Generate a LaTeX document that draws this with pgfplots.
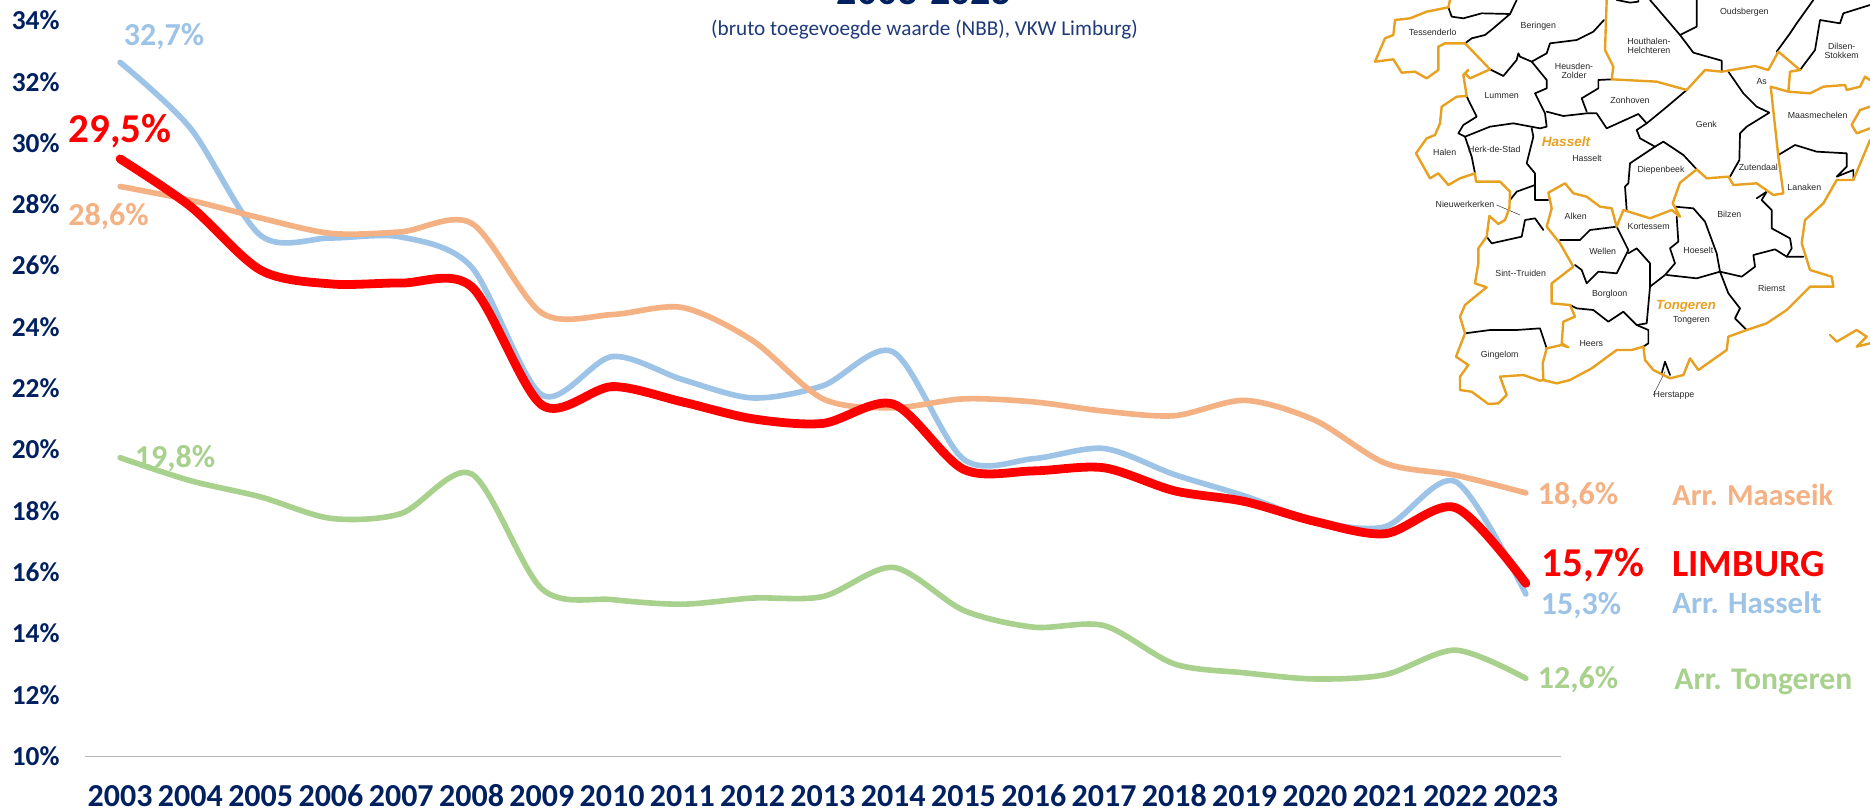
\documentclass[border=0pt]{standalone}
\usepackage{pgfplots}
\pgfplotsset{compat=1.18}
\usepackage{fontspec}
\setmainfont{Carlito}
\newfontfamily\mapfont{Liberation Sans}
\definecolor{navy}{HTML}{002060}
\definecolor{subt}{HTML}{1F3A78}
\definecolor{cred}{HTML}{FF0000}
\definecolor{cblue}{HTML}{9DC3E6}
\definecolor{corange}{HTML}{F4B183}
\definecolor{cgreen}{HTML}{A9D18E}
\definecolor{mapor}{HTML}{E8A020}
\newcommand\fs[1]{\fontsize{#1}{#1}\selectfont}
\newcommand\fsb{\fontsize{4.4}{4.7}\selectfont}
\begin{document}
\begin{tikzpicture}[x=0.5pt,y=-0.5pt]
\useasboundingbox (0,0) rectangle (1870,812);
\begin{axis}[
  at={(42.5pt,-378.25pt)}, anchor=south west,
  scale only axis, width=738pt, height=367.75pt,
  xmin=2002.5, xmax=2023.5, ymin=10, ymax=34,
  clip=false,
  axis x line=bottom, axis y line=left,
  axis line style={-},
  x axis line style={draw=black!28,line width=0.6pt},
  y axis line style={draw=none},
  major tick length=0pt,
  xtick={2003,...,2023},
  xticklabels={2003,2004,2005,2006,2007,2008,2009,2010,2011,2012,2013,2014,2015,2016,2017,2018,2019,2020,2021,2022,2023},
  ytick={10,12,...,34},
  yticklabels={10\%,12\%,14\%,16\%,18\%,20\%,22\%,24\%,26\%,28\%,30\%,32\%,34\%},
  xticklabel style={font=\bfseries\fs{16}, text=navy, anchor=base, yshift=-25pt, inner sep=0pt},
  yticklabel style={font=\bfseries\fs{13.7}, text=navy, anchor=base east, xshift=-12.5pt, yshift=-4.4pt, inner sep=0pt},
  every axis plot/.append style={smooth, tension=0.5, no markers, line cap=round, line join=round},
]
\addplot[cblue, line width=2.8pt] coordinates {(2003,32.65)(2004,30.5)(2005,27.0)(2006,26.92)(2007,26.95)(2008,25.97)(2009,21.8)(2010,23.05)(2011,22.3)(2012,21.7)(2013,22.1)(2014,23.2)(2015,19.7)(2016,19.72)(2017,20.05)(2018,19.2)(2019,18.5)(2020,17.7)(2021,17.5)(2022,18.97)(2023,15.3)};
\addplot[cgreen, line width=2.8pt] coordinates {(2003,19.75)(2004,19.0)(2005,18.47)(2006,17.77)(2007,17.93)(2008,19.22)(2009,15.47)(2010,15.12)(2011,14.97)(2012,15.17)(2013,15.22)(2014,16.17)(2015,14.77)(2016,14.22)(2017,14.27)(2018,13.02)(2019,12.73)(2020,12.53)(2021,12.67)(2022,13.47)(2023,12.55)};
\addplot[corange, line width=2.8pt] coordinates {(2003,28.6)(2004,28.15)(2005,27.57)(2006,27.07)(2007,27.12)(2008,27.4)(2009,24.47)(2010,24.42)(2011,24.65)(2012,23.57)(2013,21.67)(2014,21.38)(2015,21.67)(2016,21.57)(2017,21.27)(2018,21.12)(2019,21.62)(2020,20.97)(2021,19.57)(2022,19.18)(2023,18.6)};
\addplot[cred, line width=4.4pt] coordinates {(2003,29.5)(2004,27.95)(2005,25.87)(2006,25.42)(2007,25.45)(2008,25.33)(2009,21.47)(2010,22.07)(2011,21.57)(2012,21.02)(2013,20.87)(2014,21.5)(2015,19.37)(2016,19.32)(2017,19.42)(2018,18.67)(2019,18.32)(2020,17.67)(2021,17.27)(2022,18.12)(2023,15.65)};
\end{axis}
% title and subtitle
\node[anchor=base, text=navy, font=\bfseries\fs{20}, inner sep=0pt] at (924,5) {2003-2023};
\node[text=subt, font=\fs{10.6}, inner sep=0pt] at (924.5,30) {(bruto toegevoegde waarde (NBB), VKW Limburg)};
% value labels
\begin{scope}[every node/.style={inner sep=0pt, font=\bfseries\fs{16}}]
\node[text=cblue] at (164,37) {32,7\%};
\node[text=cred, font=\bfseries\fs{20.5}] at (120,131) {29,5\%};
\node[text=corange] at (108.5,217) {28,6\%};
\node[text=cgreen] at (175,459) {19,8\%};
\node[text=corange] at (1578,496) {18,6\%};
\node[text=cred, font=\bfseries\fs{20.5}] at (1593,565) {15,7\%};
\node[text=cblue] at (1581,606) {15,3\%};
\node[text=cgreen] at (1578,680) {12,6\%};
\node[text=corange, anchor=west, font=\bfseries\fs{15.2}] at (1672,495) {Arr. Maaseik};
\node[text=cred, anchor=west, font=\bfseries\fs{19.2}] at (1672,564) {LIMBURG};
\node[text=cblue, anchor=west, font=\bfseries\fs{15.5}] at (1672,603) {Arr. Hasselt};
\node[text=cgreen, anchor=west, font=\bfseries\fs{15.8}] at (1674,682) {Arr. Tongeren};
\end{scope}
% map inset
\begin{scope}[shift={(1350,0)}, x=0.166667pt, y=-0.166667pt, line join=round, line cap=round]
\begin{scope}[black, line width=0.85pt]
\draw (295,22)--(305,50)--(340,55)--(395,40)--(480,42)--(500,0);
\draw (480,42)--(430,85)--(405,105)--(365,115)--(345,130);
\draw (420,208)--(460,228)--(500,180)--(505,160)--(510,170)--(545,185)--(590,160)--(600,130)--(680,120)--(730,95)--(762,60);
\draw (545,185)--(590,240)--(590,265)--(555,280)--(585,340)--(590,380)--(570,385)--(490,370)--(420,380)--(345,410)--(325,400)--(340,375)--(380,350)--(355,300)--(350,288);
\draw (590,335)--(640,348)--(710,340)--(740,340)--(770,385)--(865,342)--(890,370)--(860,390)--(870,415)--(915,440);
\draw (695,295)--(745,265)--(745,240)--(785,238);
\draw (695,295)--(710,335);
\draw (1010,270)--(945,325)--(890,370);
\draw (915,440)--(840,490)--(835,550)--(825,560)--(830,630);
\draw (915,440)--(940,425)--(1000,465)--(1040,508);
\draw (345,410)--(365,470)--(375,520);
\draw (545,385)--(550,410)--(530,490)--(555,520)--(555,600)--(595,600);
\draw (555,555)--(500,575)--(480,600);
\draw (410,710)--(425,730)--(515,710)--(525,660)--(555,655)--(580,690);
\draw (630,720)--(690,720)--(720,690)--(800,680)--(835,750)--(800,820)--(745,815)--(710,850)--(695,810)--(675,795);
\draw (835,760)--(860,745)--(900,790)--(900,860)--(945,825)--(975,790)--(960,745)--(985,725)--(980,650);
\draw (950,825)--(1040,835)--(1110,815)--(1175,830)--(1215,800)--(1210,765)--(1275,748)--(1310,770)--(1360,770);
\draw (975,620)--(1030,625)--(1065,665)--(1100,760)--(1110,815)--(1135,880)--(1170,925)--(1155,955)--(1190,990);
\draw (1220,595)--(1250,575)--(1235,600)--(1265,630)--(1265,685)--(1320,715)--(1325,745)--(1310,770);
\draw (900,860)--(890,970)--(860,975)--(820,935)--(775,965)--(730,930)--(680,925)--(660,915);
\draw (860,975)--(895,990)--(895,1030)--(880,1040);
\draw (345,1000)--(420,990)--(500,990)--(570,985)--(590,1045);
\draw (935,1120)--(945,1085)--(960,1125);
\draw (1135,215)--(1180,280)--(1220,320)--(1258,338)--(1190,380)--(1170,400)--(1168,480)--(1140,530);
\draw (1285,465)--(1335,435)--(1400,455)--(1490,460)--(1490,500)--(1460,530)--(1510,510)--(1510,535);
\draw (900,0)--(990,105)--(1030,158)--(1115,182)--(1115,215);
\draw (990,105)--(1040,80)--(1040,0);
\draw (1280,155)--(1320,100)--(1340,70)--(1390,0);
\draw (1350,210)--(1395,150)--(1410,60)--(1470,70)--(1480,40)--(1560,15);
\draw (800,0)--(840,8)--(865,5)--(865,0);
\draw[line width=0.3pt, black!70] (440,615)--(510,645);
\draw[line width=0.3pt, black!70] (945,1115)--(910,1185);
\end{scope}
\begin{scope}[mapor, line width=1.2pt]
\draw (300,0)--(295,22)--(230,35)--(180,55)--(135,60)--(130,105)--(105,115)--(75,185)--(130,178)--(155,218)--(195,215)--(230,235)--(265,210)--(265,140)--(285,130)--(345,130)--(420,208);
\draw (420,208)--(360,235)--(345,220)--(355,210)--(340,225)--(350,288)--(320,290)--(275,320)--(270,370)--(255,405)--(230,415)--(198,460)--(240,535)--(265,520)--(295,555)--(330,535)--(375,520)--(378,545)--(450,545)--(480,575)--(478,625)--(465,660)--(445,672)--(418,648)--(410,710)--(385,745)--(385,790)--(375,850)--(410,862)--(375,890)--(345,915)--(330,950)--(345,1000)--(318,1070)--(355,1095)--(330,1130)--(330,1170)--(365,1175)--(415,1212)--(445,1210)--(470,1185)--(450,1130)--(520,1125)--(570,1142)--(580,1140)--(578,1090)--(590,1045)--(635,1035)--(655,1042)--(635,1030)--(640,965)--(675,950)--(660,915)--(605,910)--(605,850)--(670,800)--(630,730)--(590,680)--(605,625)--(595,578)--(645,550)--(670,580)--(710,590)--(750,620)--(785,625)--(800,680)--(820,630)--(900,655)--(965,630)--(990,650)--(968,610)--(990,548)--(1040,508)--(1070,535)--(1135,530)--(1150,555)--(1220,550)--(1270,585)--(1300,580)--(1285,470)--(1262,260)--(1315,275)--(1320,215)--(1350,210)--(1285,155)--(1255,210)--(1215,198)--(1115,215)--(1065,210)--(1010,270)--(920,245)--(785,238)--(790,200)--(765,150)--(770,0);
\draw (580,1140)--(620,1150)--(660,1140)--(725,1105)--(800,1050)--(845,1050)--(880,1040)--(885,1080)--(910,1110)--(960,1135)--(1000,1125)--(1020,1075)--(1045,1110)--(1130,1050)--(1135,1010)--(1190,990)--(1250,970)--(1310,930)--(1380,860)--(1450,860)--(1445,830)--(1380,810)--(1355,730)--(1365,660)--(1420,610)--(1460,540)--(1510,540)--(1560,420);
\draw (1315,275)--(1380,280)--(1420,260)--(1485,255)--(1490,270)--(1530,260)--(1545,230)--(1560,240);
\draw (1560,320)--(1530,330)--(1505,375)--(1520,400)--(1560,385);
\draw (1440,1005)--(1460,1025)--(1520,990)--(1550,1010)--(1520,1040)--(1560,1030);
\end{scope}
\begin{scope}[every node/.style={inner sep=0pt, font=\mapfont\fsb, text=black!85, align=center}]
\node at (1183,37) {Oudsbergen};
\node at (565,79) {Beringen};
\node at (248,97) {Tessenderlo};
\node at (897,137) {Houthalen-\\Helchteren};
\node at (672,213) {Heusden-\\Zolder};
\node at (1475,153) {Dilsen-\\Stokkem};
\node at (1235,246) {As};
\node at (455,286) {Lummen};
\node at (840,301) {Zonhoven};
\node at (1403,347) {Maasmechelen};
\node at (1069,372) {Genk};
\node at (284,457) {Halen};
\node at (433,447) {Herk-de-Stad};
\node at (711,474) {Hasselt};
\node at (933,512) {Diepenbeek};
\node at (1225,503) {Zutendaal};
\node at (1363,563) {Lanaken};
\node at (345,612) {Nieuwerkerken};
\node at (677,648) {Alken};
\node at (1138,643) {Bilzen};
\node at (896,681) {Kortessem};
\node at (758,755) {Wellen};
\node at (1045,751) {Hoeselt};
\node at (512,821) {Sint--Truiden};
\node at (1265,864) {Riemst};
\node at (779,882) {Borgloon};
\node at (1024,962) {Tongeren};
\node at (724,1031) {Heers};
\node at (449,1066) {Gingelom};
\node at (972,1187) {Herstappe};
\node[font=\mapfont\bfseries\itshape\fs{6.8}, text=mapor] at (648,426) {Hasselt};
\node[font=\mapfont\bfseries\itshape\fs{6.6}, text=mapor] at (1008,918) {Tongeren};
\end{scope}
\end{scope}
\end{tikzpicture}
\end{document}
